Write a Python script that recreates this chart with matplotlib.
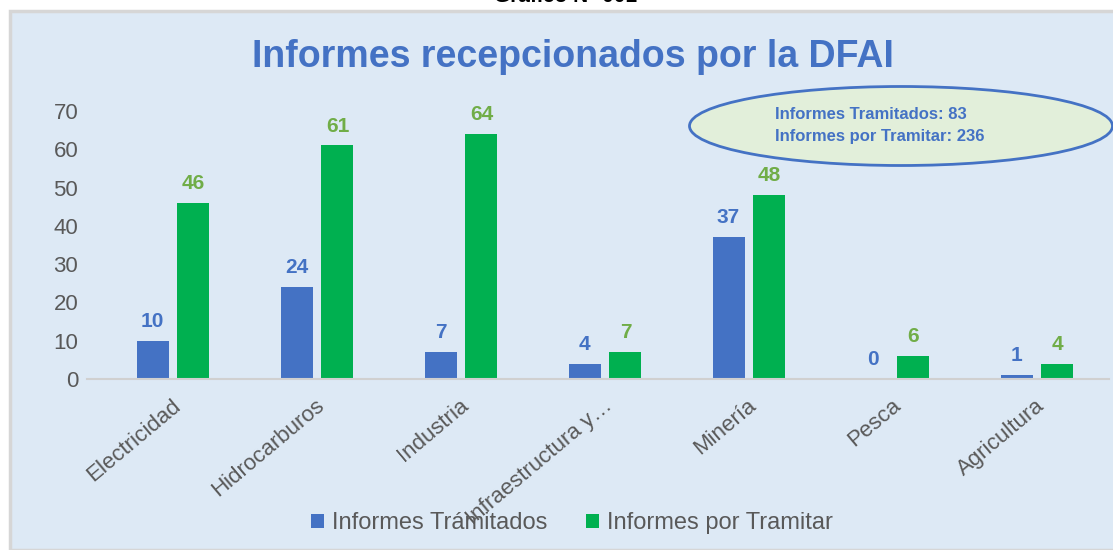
import matplotlib.pyplot as plt
from matplotlib.patches import Ellipse, Rectangle
from matplotlib.transforms import ScaledTranslation

plt.rcParams['font.family'] = ['Liberation Sans', 'DejaVu Sans']

categorias = ['Electricidad', 'Hidrocarburos', 'Industria', 'Infraestructura y…',
              'Minería', 'Pesca', 'Agricultura']
tramitados = [10, 24, 7, 4, 37, 0, 1]
por_tramitar = [46, 61, 64, 7, 48, 6, 4]
y_ticks = [0, 10, 20, 30, 40, 50, 60, 70]

azul = '#4472C4'
verde = '#00B050'
verde_txt = '#70AD47'
gris = '#595959'

W, H = 1113, 550
fig = plt.figure(figsize=(W / 100, H / 100), dpi=100)
fig.patch.set_facecolor('white')

# panel de fondo
fig.add_artist(Rectangle((10 / W, 0), 1.2, 1 - 11 / H, transform=fig.transFigure,
                         facecolor='#DDE9F5', edgecolor='#D6D6D6', lw=2.5, zorder=0))

fig.text(0.508, 1 - 2 / H, 'Gráfico N° 001', ha='center', va='baseline',
         fontsize=15, fontweight='bold', color='black')

fig.text(573 / W, 1 - 57 / H, 'Informes recepcionados por la DFAI', ha='center',
         va='center', fontsize=27, fontweight='bold', color=azul)

left, right = 86.6, 1109
ax = fig.add_axes([left / W, 1 - 379 / H, (right - left) / W, (379 - 111) / H])
ax.set_facecolor('none')

x = list(range(len(categorias)))
bw = 0.222
off = 0.142
b1 = ax.bar([i - off for i in x], tramitados, width=bw, color=azul,
            label='Informes Trámitados')
b2 = ax.bar([i + off for i in x], por_tramitar, width=bw, color=verde,
            label='Informes por Tramitar')

for i, v in enumerate(tramitados):
    ax.annotate(str(v), (i - off, v), xytext=(0, 10), textcoords='offset points',
                ha='center', va='baseline', fontsize=15, fontweight='bold',
                color=azul, annotation_clip=False)
for i, v in enumerate(por_tramitar):
    ax.annotate(str(v), (i + off, v), xytext=(0, 10), textcoords='offset points',
                ha='center', va='baseline', fontsize=15, fontweight='bold',
                color=verde_txt, annotation_clip=False)

ax.set_xlim(-0.6, 6.5)
ax.set_ylim(0, 70)
ax.set_yticks(y_ticks)
ax.set_xticks(x)
ax.set_xticklabels(categorias, rotation=40, ha='right', va='top',
                   rotation_mode='anchor', fontsize=16)
ax.tick_params(axis='both', length=0, labelcolor=gris)
ax.tick_params(axis='y', pad=6, labelsize=16)
ax.tick_params(axis='x', pad=8)
desplaza = ScaledTranslation(-2 / 100, -5 / 100, fig.dpi_scale_trans)
for lbl in ax.get_xticklabels():
    lbl.set_transform(lbl.get_transform() + desplaza)
for s in ['top', 'right', 'left']:
    ax.spines[s].set_visible(False)
ax.spines['bottom'].set_color('#D0D0D0')
ax.spines['bottom'].set_linewidth(1.5)

fig.legend(handles=[b1, b2], loc='center', bbox_to_anchor=(572 / W, 1 - 523 / H),
           ncol=2, frameon=False, fontsize=17, labelcolor=gris,
           handlelength=0.55, handleheight=0.55, handletextpad=0.35,
           columnspacing=1.6)

# cuadro de totales
fig.add_artist(Ellipse((901 / W, 1 - 126 / H), 423 / W, 79 / H,
                       transform=fig.transFigure, facecolor='#E2EFDA',
                       edgecolor=azul, lw=2, zorder=5))
fig.text(775 / W, 1 - 119 / H, 'Informes Tramitados: 83', ha='left', va='baseline',
         fontsize=12, fontweight='bold', color=azul, zorder=6)
fig.text(775 / W, 1 - 141 / H, 'Informes por Tramitar: 236', ha='left',
         va='baseline', fontsize=12, fontweight='bold', color=azul, zorder=6)

fig.savefig('out.png', dpi=100)
